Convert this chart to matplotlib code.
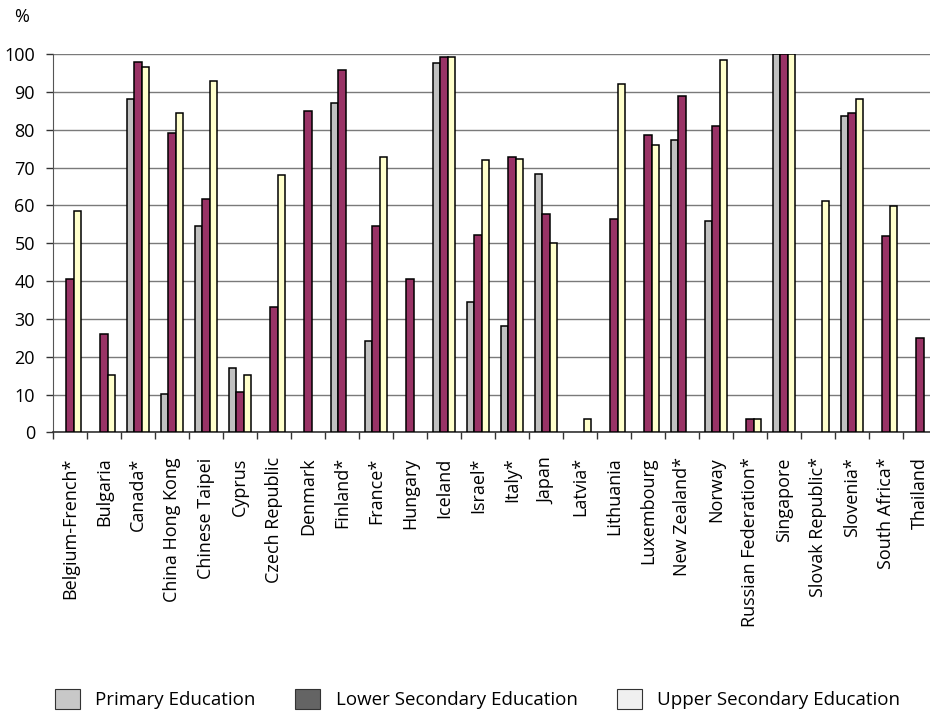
import matplotlib
matplotlib.use("Agg")
import matplotlib.pyplot as plt
import numpy as np
from matplotlib.patches import Patch

plt.rcParams['font.family'] = ['Open Sans', 'DejaVu Sans']

countries = [
    "Belgium-French*", "Bulgaria", "Canada*", "China Hong Kong", "Chinese Taipei",
    "Cyprus", "Czech Republic", "Denmark", "Finland*", "France*", "Hungary",
    "Iceland", "Israel*", "Italy*", "Japan", "Latvia*", "Lithuania", "Luxembourg",
    "New Zealand*", "Norway", "Russian Federation*", "Singapore", "Slovak Republic*",
    "Slovenia*", "South Africa*", "Thailand",
]

# NaN = no data reported for that level
primary = [np.nan, np.nan, 88.2, 10.2, 54.6, 17.0, np.nan, np.nan, 87.2, 24.2, np.nan,
           97.6, 34.5, 28.2, 68.4, np.nan, np.nan, np.nan, 77.3, 56.0, np.nan, 100.0,
           np.nan, 83.7, np.nan, np.nan]
lower_secondary = [40.6, 26.1, 98.0, 79.3, 61.8, 10.7, 33.2, 85.1, 95.8, 54.6, 40.6,
                   99.3, 52.3, 72.9, 57.8, np.nan, 56.5, 78.7, 89.0, 81.0, 3.6, 100.0,
                   np.nan, 84.6, 51.9, 24.9]
upper_secondary = [58.6, 15.2, 96.7, 84.5, 93.0, 15.2, 68.1, np.nan, np.nan, 72.9, np.nan,
                   99.3, 72.0, 72.4, 50.1, 3.6, 92.2, 76.0, np.nan, 98.4, 3.6, 100.0,
                   61.3, 88.2, 59.9, np.nan]

series_names = ["Primary Education", "Lower Secondary Education", "Upper Secondary Education"]
bar_colors = ["#c0c0c0", "#993366", "#ffffcc"]
legend_colors = ["#c8c8c8", "#646464", "#f0f0f0"]

fig = plt.figure(figsize=(9.30, 7.13), dpi=100)
ax = fig.add_axes([53 / 930, 1 - 432.3 / 713, (937 - 53) / 930, (432.3 - 54.3) / 713])

n = len(countries)
x = np.arange(n)
w = 1 / 4.5
for i, (vals, col) in enumerate(zip([primary, lower_secondary, upper_secondary], bar_colors)):
    ax.bar(x + (i - 1) * w, vals, width=w, color=col, edgecolor="black", linewidth=1.1, zorder=3)

ax.set_xlim(-0.5, n - 0.5)
ax.set_ylim(0, 100)
ax.set_yticks(np.arange(0, 101, 10))
ax.yaxis.grid(True, color="#7a7a7a", linewidth=1.0, zorder=0)
ax.set_axisbelow(True)

ax.set_xticks(np.arange(-0.5, n + 0.5, 1), minor=False)
ax.set_xticklabels([])
ax.set_xticks(x, minor=True)
ax.set_xticklabels(countries, minor=True, rotation=90, fontsize=13, va="top", ha="center")
ax.tick_params(axis="x", which="minor", length=0, pad=18)
ax.tick_params(axis="x", which="major", length=5, width=1, color="#333333", direction="out")
ax.tick_params(axis="y", length=5, width=1, color="#333333", labelsize=13, pad=8)

for side in ["top", "right"]:
    ax.spines[side].set_visible(False)
ax.spines["left"].set_color("#555555")
ax.spines["bottom"].set_color("#333333")
ax.spines["bottom"].set_linewidth(1.2)

fig.text(14 / 930, 1 - 17 / 713, "%", fontsize=13, ha="left", va="center")

handles = [Patch(facecolor=c, edgecolor="#333333", linewidth=0.8) for c in legend_colors]
fig.legend(handles, series_names, loc="center", bbox_to_anchor=(477.5 / 930, 1 - 699 / 713),
           ncol=3, frameon=False, fontsize=13.5, handlelength=1.33, handleheight=1.25,
           columnspacing=2.08, handletextpad=0.85, borderpad=0.0)

fig.savefig("out.png", dpi=100)
